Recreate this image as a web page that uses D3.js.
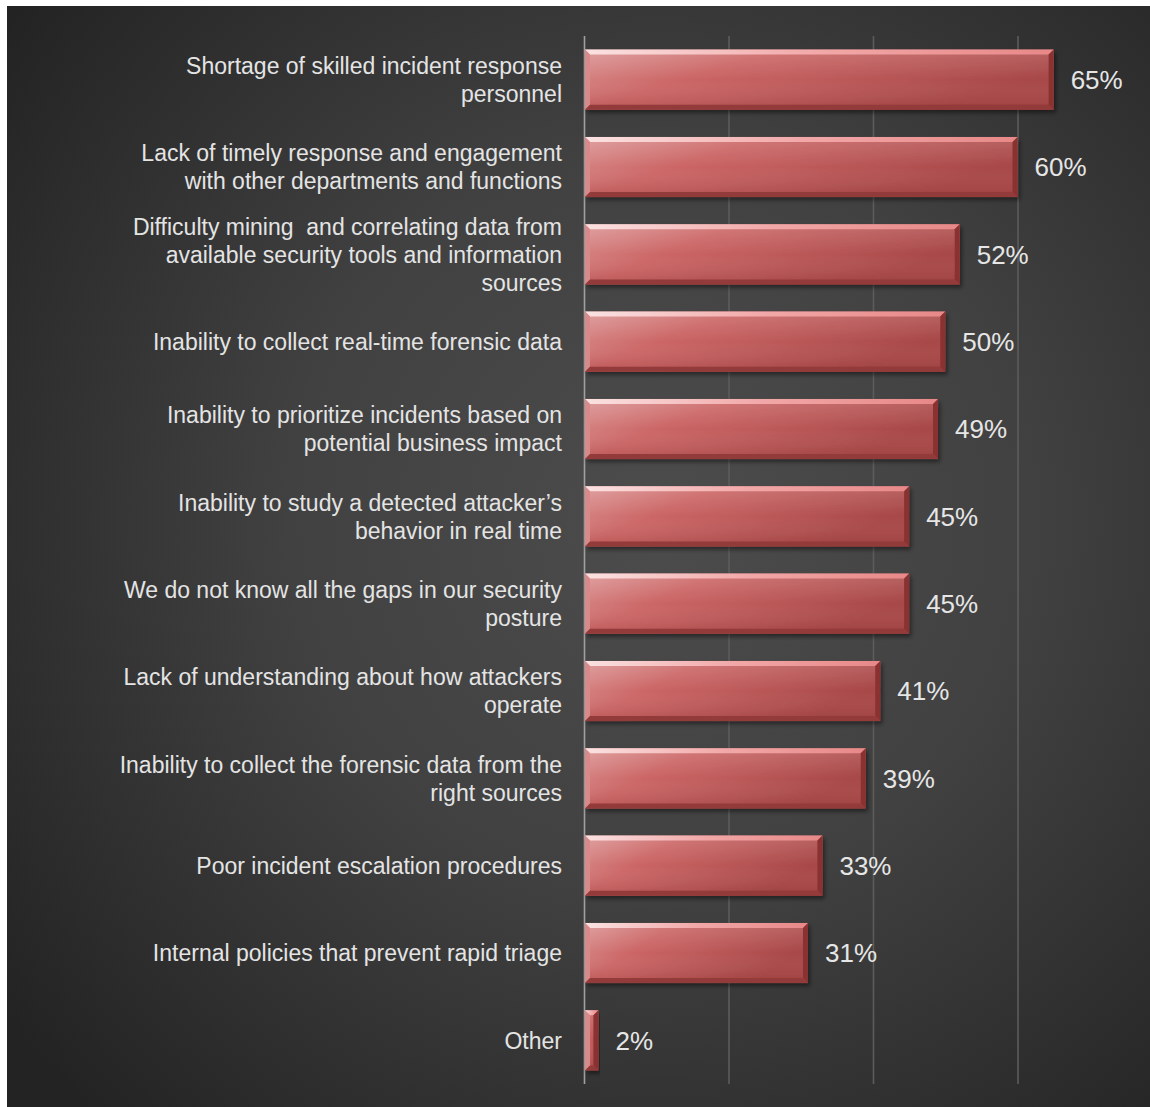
<!DOCTYPE html>
<html>
<head>
<meta charset="utf-8">
<script src="https://cdn.jsdelivr.net/npm/d3@7"></script>
<style>
  html, body { margin: 0; padding: 0; background: #ffffff; }
  svg { display: block; }
</style>
</head>
<body>
<svg id="chart" width="1150" height="1107"></svg>
<script>
// Survey responses: obstacles to effective incident response
const categories = [
  ["Shortage of skilled incident response", "personnel"],
  ["Lack of timely response and engagement", "with other departments and functions"],
  ["Difficulty mining  and correlating data from", "available security tools and information", "sources"],
  ["Inability to collect real-time forensic data"],
  ["Inability to prioritize incidents based on", "potential business impact"],
  ["Inability to study a detected attacker\u2019s", "behavior in real time"],
  ["We do not know all the gaps in our security", "posture"],
  ["Lack of understanding about how attackers", "operate"],
  ["Inability to collect the forensic data from the", "right sources"],
  ["Poor incident escalation procedures"],
  ["Internal policies that prevent rapid triage"],
  ["Other"]
];
const values = [0.65, 0.60, 0.52, 0.50, 0.49, 0.45, 0.45, 0.41, 0.39, 0.33, 0.31, 0.02];
const gridTicks = [0, 0.2, 0.4, 0.6];

const svg = d3.select("#chart");
const defs = svg.append("defs");

// panel background
const bg = defs.append("radialGradient")
  .attr("id", "bgGrad").attr("gradientUnits", "userSpaceOnUse")
  .attr("cx", 660).attr("cy", 520).attr("r", 820);
bg.append("stop").attr("offset", "0").attr("stop-color", "#4c4c4c");
bg.append("stop").attr("offset", "0.45").attr("stop-color", "#414141");
bg.append("stop").attr("offset", "1").attr("stop-color", "#232323");

svg.append("rect").attr("x", 7).attr("y", 6).attr("width", 1143).attr("height", 1101)
  .attr("fill", "url(#bgGrad)");

// bar face gradients
const faceH = defs.append("linearGradient").attr("id", "faceH")
  .attr("x1", "0").attr("y1", "0").attr("x2", "1").attr("y2", "0.4");
faceH.append("stop").attr("offset", "0").attr("stop-color", "#dc9595");
faceH.append("stop").attr("offset", "0.35").attr("stop-color", "#cc6666");
faceH.append("stop").attr("offset", "1").attr("stop-color", "#a84848");

const faceV = defs.append("linearGradient").attr("id", "faceV")
  .attr("x1", "0").attr("y1", "0").attr("x2", "0").attr("y2", "1");
faceV.append("stop").attr("offset", "0").attr("stop-color", "#ffffff").attr("stop-opacity", 0.12);
faceV.append("stop").attr("offset", "0.5").attr("stop-color", "#ffffff").attr("stop-opacity", 0);
faceV.append("stop").attr("offset", "1").attr("stop-color", "#600000").attr("stop-opacity", 0.14);

const topG = defs.append("linearGradient").attr("id", "topBevel")
  .attr("x1", "0").attr("y1", "0").attr("x2", "1").attr("y2", "0");
topG.append("stop").attr("offset", "0").attr("stop-color", "#fbe2e2");
topG.append("stop").attr("offset", "0.5").attr("stop-color", "#f2a8a8");
topG.append("stop").attr("offset", "1").attr("stop-color", "#e88888");

const shadow = defs.append("filter").attr("id", "barShadow")
  .attr("x", "-5%").attr("y", "-20%").attr("width", "110%").attr("height", "150%");
shadow.append("feDropShadow").attr("dx", 2).attr("dy", 3).attr("stdDeviation", 2)
  .attr("flood-color", "#000").attr("flood-opacity", 0.45);

const x = d3.scaleLinear().domain([0, 0.7]).range([584, 584 + 70 * 7.225]);
const y = d3.scaleBand().domain(d3.range(categories.length)).range([36, 1084]).paddingInner(0.312).paddingOuter(0.156);

// gridlines
const gridAxis = d3.axisBottom(x).tickValues(gridTicks).tickSize(1084 - 36).tickFormat("");
const gAxis = svg.append("g").attr("transform", "translate(0,36)").call(gridAxis);
gAxis.select(".domain").remove();
gAxis.selectAll(".tick line")
  .attr("stroke", d => d === 0 ? "#a0a0a0" : "#5c5c5c")
  .attr("stroke-width", 1.6);

// bars with bevelled edges
const bevel = 5;
const bars = svg.append("g").selectAll("g.bar").data(values).join("g").attr("class", "bar")
  .attr("filter", "url(#barShadow)");

bars.each(function(v, i) {
  const g = d3.select(this);
  const x0 = x(0) + 1, x1 = x(v), y0 = y(i), y1 = y(i) + y.bandwidth();
  const b = Math.min(bevel, (x1 - x0) / 2);
  g.append("rect").attr("x", x0).attr("y", y0).attr("width", x1 - x0).attr("height", y1 - y0)
    .attr("fill", "url(#faceH)");
  g.append("rect").attr("x", x0).attr("y", y0).attr("width", x1 - x0).attr("height", y1 - y0)
    .attr("fill", "url(#faceV)");
  g.append("polygon").attr("points", [[x0, y0], [x1, y0], [x1 - b, y0 + b], [x0 + b, y0 + b]].join(" "))
    .attr("fill", "url(#topBevel)");
  g.append("polygon").attr("points", [[x0, y0], [x0 + b, y0 + b], [x0 + b, y1 - b], [x0, y1]].join(" "))
    .attr("fill", "#d88a8a");
  g.append("polygon").attr("points", [[x1, y0], [x1, y1], [x1 - b, y1 - b], [x1 - b, y0 + b]].join(" "))
    .attr("fill", "#8a3232");
  g.append("polygon").attr("points", [[x0, y1], [x0 + b, y1 - b], [x1 - b, y1 - b], [x1, y1]].join(" "))
    .attr("fill", "#933a3a");
});

// value labels
svg.append("g").selectAll("text").data(values).join("text")
  .attr("x", d => x(d) + 17)
  .attr("y", (d, i) => y(i) + y.bandwidth() / 2)
  .attr("dy", "0.36em")
  .attr("font-family", "'Liberation Sans', Arial, sans-serif")
  .attr("font-size", 26)
  .attr("fill", "#e6e6e6")
  .text(d => Math.round(d * 100) + "%");

// category labels
const lineH = 28;
const labels = svg.append("g").selectAll("text").data(categories).join("text")
  .attr("text-anchor", "end")
  .attr("font-family", "'Liberation Sans', Arial, sans-serif")
  .attr("font-size", 23)
  .attr("fill", "#e4e4e4")
  .attr("transform", (d, i) => `translate(562,${y(i) + y.bandwidth() / 2})`);
labels.each(function(lines) {
  const t = d3.select(this);
  const off = -(lines.length - 1) / 2 * lineH;
  lines.forEach((ln, k) => {
    t.append("tspan").attr("x", 0).attr("y", off + k * lineH).attr("dy", "0.36em")
      .attr("xml:space", "preserve").text(ln);
  });
});
</script>
</body>
</html>
